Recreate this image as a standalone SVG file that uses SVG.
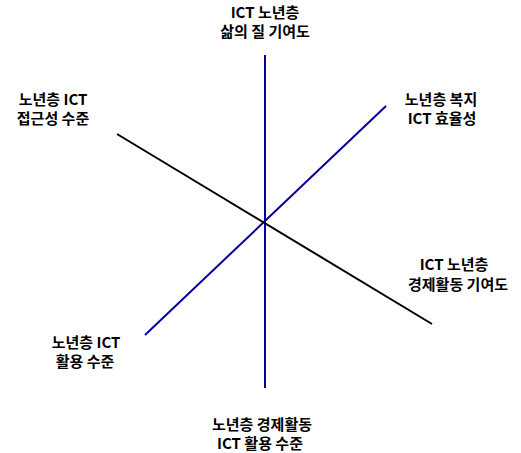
<svg xmlns="http://www.w3.org/2000/svg" width="521" height="453" viewBox="0 0 521 453">
<style>
.lbl{font-family:"Noto Sans CJK KR","Noto Sans",sans-serif;font-size:15px;font-weight:bold;fill:#000;text-anchor:middle}
.blue{stroke:#0000a0;stroke-width:2;fill:none}
.black{stroke:#000;stroke-width:2;fill:none}
</style>
<rect width="521" height="453" fill="#fff"/>
<g id="connectors">
<line class="blue" x1="265" y1="55" x2="265" y2="388"/>
<line class="blue" x1="145" y1="335" x2="386" y2="106"/>
<line class="black" x1="117" y1="134" x2="432" y2="324"/>
</g>
<g id="top"><text class="lbl" x="265" y="18">ICT 노년층</text><text class="lbl" x="265" y="37">삶의 질 기여도</text></g>
<g id="topleft"><text class="lbl" x="53" y="105">노년층 ICT</text><text class="lbl" x="53" y="124">접근성 수준</text></g>
<g id="topright"><text class="lbl" x="441" y="105">노년층 복지</text><text class="lbl" x="442" y="124">ICT 효율성</text></g>
<g id="right"><text class="lbl" x="454" y="270">ICT 노년층</text><text class="lbl" x="458" y="290">경제활동 기여도</text></g>
<g id="bottomleft"><text class="lbl" x="86" y="348">노년층 ICT</text><text class="lbl" x="85" y="367">활용 수준</text></g>
<g id="bottom"><text class="lbl" x="262" y="430">노년층 경제활동</text><text class="lbl" x="260" y="449">ICT 활용 수준</text></g>
</svg>
